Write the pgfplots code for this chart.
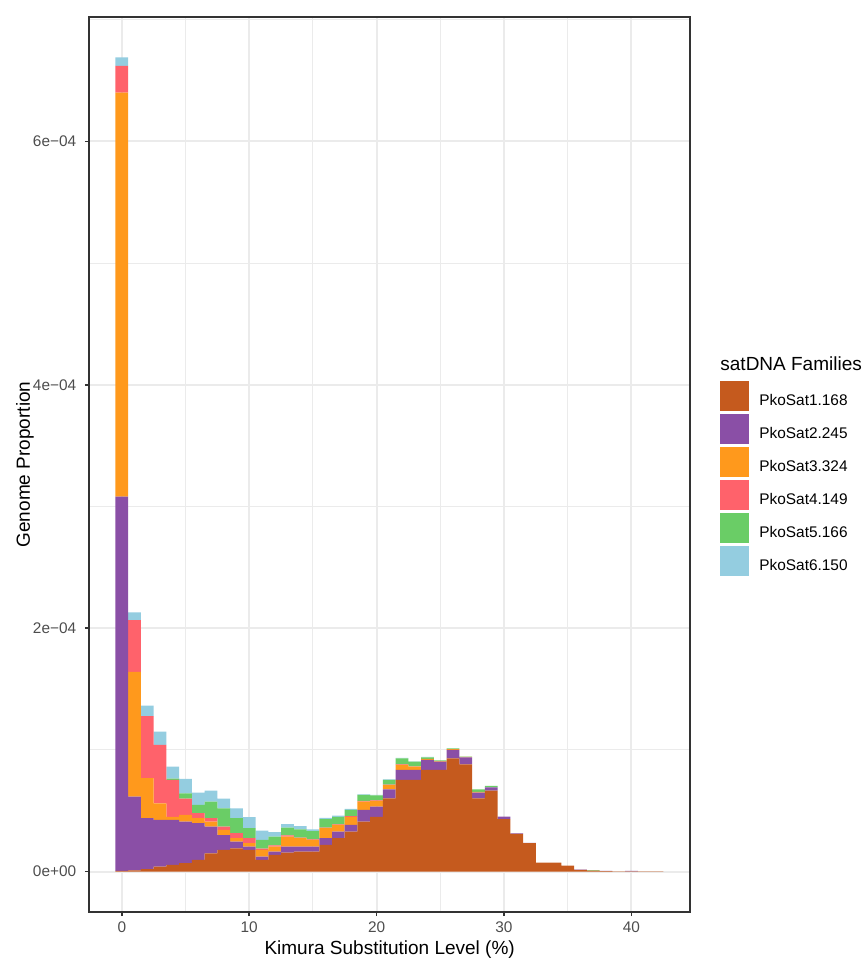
\documentclass[border=0pt]{standalone}
\usepackage{fontspec}
\setmainfont{Liberation Sans}
\usepackage{pgfplots}
\usepackage{pgfplotstable}
\pgfplotsset{compat=1.18}
\definecolor{cBrown}{HTML}{C55A1E}
\definecolor{cPurple}{HTML}{8A4FA6}
\definecolor{cOrange}{HTML}{FF991C}
\definecolor{cRed}{HTML}{FF626B}
\definecolor{cGreen}{HTML}{6ACD66}
\definecolor{cBlue}{HTML}{94CDE0}
\definecolor{grey20}{HTML}{333333}
\definecolor{grey30}{HTML}{4D4D4D}
\definecolor{gridgrey}{HTML}{EBEBEB}

\pgfplotstableread{
x  b        p        o        r        g        bl
0  0.005e-4 3.075e-4 3.32e-4  0.22e-4  0        0.07e-4
1  0.01e-4  0.606e-4 1.024e-4 0.426e-4 0        0.064e-4
2  0.02e-4  0.418e-4 0.329e-4 0.511e-4 0        0.085e-4
3  0.04e-4  0.384e-4 0.137e-4 0.479e-4 0        0.109e-4
4  0.055e-4 0.369e-4 0.026e-4 0.303e-4 0.01e-4  0.099e-4
5  0.07e-4  0.34e-4  0.055e-4 0.135e-4 0.043e-4 0.118e-4
6  0.096e-4 0.301e-4 0.041e-4 0.042e-4 0.067e-4 0.102e-4
7  0.15e-4  0.22e-4  0.04e-4  0.028e-4 0.137e-4 0.09e-4
8  0.178e-4 0.122e-4 0.042e-4 0.028e-4 0.15e-4  0.08e-4
9  0.19e-4  0.056e-4 0.028e-4 0.041e-4 0.123e-4 0.082e-4
10 0.178e-4 0.027e-4 0.028e-4 0.041e-4 0.082e-4 0.091e-4
11 0.096e-4 0.027e-4 0.055e-4 0.01e-4  0.072e-4 0.077e-4
12 0.137e-4 0.027e-4 0.041e-4 0.01e-4  0.072e-4 0.036e-4
13 0.156e-4 0.049e-4 0.082e-4 0.01e-4  0.063e-4 0.03e-4
14 0.164e-4 0.041e-4 0.069e-4 0.005e-4 0.068e-4 0.027e-4
15 0.164e-4 0.041e-4 0.055e-4 0.005e-4 0.068e-4 0.014e-4
16 0.219e-4 0.055e-4 0.082e-4 0.005e-4 0.07e-4  0.01e-4
17 0.274e-4 0.054e-4 0.055e-4 0.005e-4 0.062e-4 0.01e-4
18 0.328e-4 0.055e-4 0.067e-4 0.005e-4 0.051e-4 0.01e-4
19 0.41e-4  0.096e-4 0.069e-4 0.005e-4 0.05e-4  0.005e-4
20 0.45e-4  0.084e-4 0.046e-4 0.005e-4 0.04e-4  0.005e-4
21 0.602e-4 0.074e-4 0.034e-4 0.004e-4 0.039e-4 0.004e-4
22 0.753e-4 0.082e-4 0.041e-4 0.004e-4 0.05e-4  0.004e-4
23 0.753e-4 0.082e-4 0.027e-4 0.003e-4 0.038e-4 0.003e-4
24 0.835e-4 0.082e-4 0.008e-4 0        0.014e-4 0.003e-4
25 0.835e-4 0.068e-4 0.005e-4 0        0.005e-4 0
26 0.93e-4  0.07e-4  0.005e-4 0        0.008e-4 0
27 0.88e-4  0.059e-4 0.003e-4 0        0.003e-4 0
28 0.602e-4 0.047e-4 0.005e-4 0        0.022e-4 0
29 0.665e-4 0.027e-4 0        0        0.011e-4 0
30 0.43e-4  0.022e-4 0        0        0        0
31 0.309e-4 0.005e-4 0        0        0        0
32 0.233e-4 0.003e-4 0        0        0        0
33 0.074e-4 0        0        0        0        0
34 0.074e-4 0        0        0        0        0
35 0.049e-4 0        0        0        0        0
36 0.014e-4 0.002e-4 0        0        0        0
37 0.008e-4 0        0        0        0.003e-4 0
38 0.004e-4 0.001e-4 0        0        0        0
39 0.002e-4 0        0        0        0        0
40 0.002e-4 0.003e-4 0        0        0        0
41 0.002e-4 0        0        0        0        0
42 0.001e-4 0        0        0        0        0
}\histdata

\begin{document}
\begin{tikzpicture}
\path[use as bounding box] (-44.65pt,-25.15pt) rectangle (386.85pt,455.85pt);
\begin{axis}[
  at={(0pt,0pt)}, anchor=south west,
  scale only axis, width=300.35pt, height=447.2pt,
  xmin=-2.55, xmax=44.6, ymin=-3.3e-5, ymax=7.02e-4,
  ybar stacked, bar width=1,
  axis line style={draw=grey20, line width=0.9pt},
  grid=both,
  major grid style={draw=gridgrey, line width=1pt},
  minor grid style={draw=gridgrey, line width=0.5pt},
  xtick={0,10,20,30,40}, xticklabels={0,10,20,30,40},
  minor xtick={5,15,25,35},
  ytick={0,2e-4,4e-4,6e-4}, yticklabels={0e+00,2e−04,4e−04,6e−04},
  minor ytick={1e-4,3e-4,5e-4,7e-4},
  scaled y ticks=false, scaled x ticks=false,
  tick align=outside, tick pos=left,
  major tick length=2.2pt, minor tick length=0pt,
  tick style={draw=grey20, line width=0.8pt},
  ticklabel style={font=\fontsize{7.7}{9}\selectfont, text=grey30},
  xticklabel style={anchor=base, inner sep=0pt, yshift=-8.15pt},
  yticklabel style={anchor=east, inner sep=0pt, xshift=-4.15pt},
  xlabel={Kimura Substitution Level (\%)}, ylabel={Genome Proportion},
  label style={font=\fontsize{9.5}{11}\selectfont},
  xlabel style={at={([yshift=-21.5pt]axis description cs:0.5,0)}, anchor=base, inner sep=0pt},
  ylabel style={at={([xshift=-29.65pt]axis description cs:0,0.5)}, anchor=base, inner sep=0pt},
  legend style={at={(axis description cs:1.0488,0.5934)}, anchor=north west, draw=none, fill=none,
    inner sep=0pt, row sep=1.5pt, column sep=5.35pt,
    nodes={inner sep=0pt, font=\fontsize{7.7}{9}\selectfont}},
  legend cell align=left,
  legend image code/.code={\fill[#1] (0pt,-4.75pt) rectangle (14.5pt,10.25pt);},
]
\addplot[fill=cBrown, draw=none] table[x=x, y=b] {\histdata};
\addlegendentry{PkoSat1.168}
\addplot[fill=cPurple, draw=none] table[x=x, y=p] {\histdata};
\addlegendentry{PkoSat2.245}
\addplot[fill=cOrange, draw=none] table[x=x, y=o] {\histdata};
\addlegendentry{PkoSat3.324}
\addplot[fill=cRed, draw=none] table[x=x, y=r] {\histdata};
\addlegendentry{PkoSat4.149}
\addplot[fill=cGreen, draw=none] table[x=x, y=g] {\histdata};
\addlegendentry{PkoSat5.166}
\addplot[fill=cBlue, draw=none] table[x=x, y=bl] {\histdata};
\addlegendentry{PkoSat6.150}
\end{axis}
\node[anchor=base west, inner sep=0pt, font=\fontsize{9.5}{11}\selectfont] at (315.35pt,270.5pt) {satDNA Families};
\end{tikzpicture}
\end{document}
